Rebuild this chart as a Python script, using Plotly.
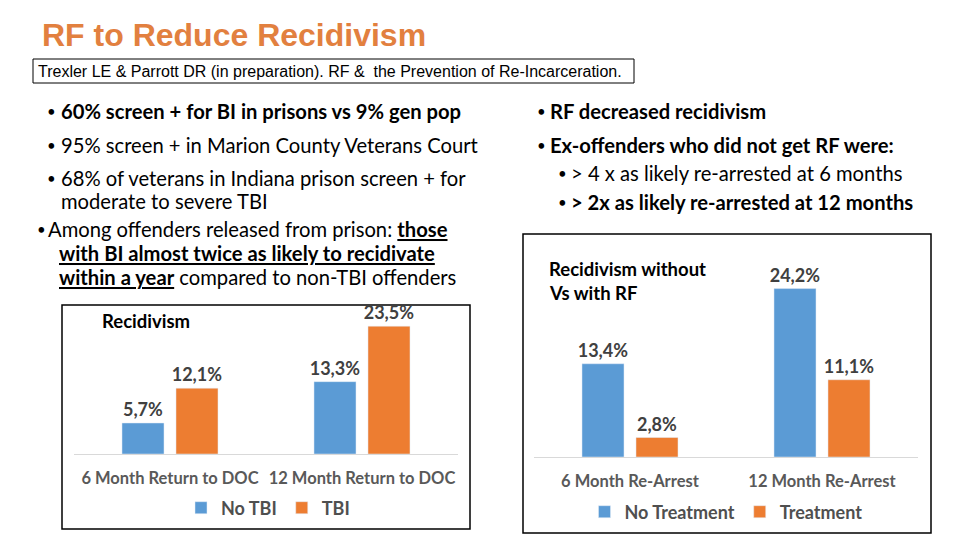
import plotly.graph_objects as go

# ---------------- data ----------------
left_categories = ["6 Month Return to DOC", "12 Month Return to DOC"]
left_no_tbi = [5.7, 13.3]
left_tbi = [12.1, 23.5]

right_categories = ["6 Month Re-Arrest", "12 Month Re-Arrest"]
right_no_treatment = [13.4, 24.2]
right_treatment = [2.8, 11.1]

W, H = 960, 540
BLUE = "#5B9BD5"
ORANGE = "#ED7D31"
BODY_FONT = "Lato"


def px(x):
    return x / W


def py(y):
    return 1 - y / H


def fmt(vals):
    return [f"{v:.1f}".replace(".", ",") + "%" for v in vals]


fig = go.Figure()

label_font = dict(family=BODY_FONT, size=18, color="#404040", weight="bold")

fig.add_trace(go.Bar(x=left_categories, y=left_no_tbi, name="No TBI", marker_color=BLUE,
                     text=fmt(left_no_tbi), textposition="outside", constraintext="none",
                     textfont=label_font, cliponaxis=False, xaxis="x", yaxis="y",
                     legend="legend", hoverinfo="skip"))
fig.add_trace(go.Bar(x=left_categories, y=left_tbi, name="TBI", marker_color=ORANGE,
                     text=fmt(left_tbi), textposition="outside", constraintext="none",
                     textfont=label_font, cliponaxis=False, xaxis="x", yaxis="y",
                     legend="legend", hoverinfo="skip"))
fig.add_trace(go.Bar(x=right_categories, y=right_no_treatment, name="No Treatment", marker_color=BLUE,
                     text=fmt(right_no_treatment), textposition="outside", constraintext="none",
                     textfont=label_font, cliponaxis=False, xaxis="x2", yaxis="y2",
                     legend="legend2", hoverinfo="skip"))
fig.add_trace(go.Bar(x=right_categories, y=right_treatment, name="Treatment", marker_color=ORANGE,
                     text=fmt(right_treatment), textposition="outside", constraintext="none",
                     textfont=label_font, cliponaxis=False, xaxis="x2", yaxis="y2",
                     legend="legend2", hoverinfo="skip"))

tick_font = dict(family=BODY_FONT, size=16.5, color="#595959", weight="bold")
axis_common = dict(type="category", range=[-0.5, 1.5], showgrid=False, zeroline=False,
                   showline=True, linecolor="#D9D9D9", linewidth=1, ticks="",
                   tickfont=tick_font, ticklabelstandoff=9, fixedrange=True)
yaxis_common = dict(range=[0, 25], visible=False, fixedrange=True)

legend_font = dict(family=BODY_FONT, size=18, color="#4F4F4F", weight="bold")

fig.update_layout(
    width=W, height=H,
    margin=dict(l=0, r=0, t=0, b=0),
    paper_bgcolor="white", plot_bgcolor="white",
    barmode="group", bargap=0.4375, bargroupgap=0.222,
    xaxis=dict(domain=[px(74), px(458)], anchor="y", **axis_common),
    yaxis=dict(domain=[py(454), py(318)], anchor="x", **yaxis_common),
    xaxis2=dict(domain=[px(534), px(918)], anchor="y2", **axis_common),
    yaxis2=dict(domain=[py(457), py(283)], anchor="x2", **yaxis_common),
    legend=dict(orientation="h", x=px(268), xanchor="center", y=py(508), yanchor="middle",
                font=legend_font, bgcolor="rgba(0,0,0,0)", itemwidth=30, tracegroupgap=0),
    legend2=dict(orientation="h", x=px(726), xanchor="center", y=py(512), yanchor="middle",
                 font=legend_font, bgcolor="rgba(0,0,0,0)", itemwidth=30, tracegroupgap=0),
    showlegend=True,
)

shapes = []
# chart frames
shapes.append(dict(type="rect", xref="paper", yref="paper", x0=px(62), x1=px(470), y0=py(529), y1=py(305),
                   line=dict(color="black", width=1.5), fillcolor="rgba(0,0,0,0)", layer="below"))
shapes.append(dict(type="rect", xref="paper", yref="paper", x0=px(523), x1=px(931), y0=py(533), y1=py(234),
                   line=dict(color="black", width=1.5), fillcolor="rgba(0,0,0,0)", layer="below"))
# citation box
shapes.append(dict(type="rect", xref="paper", yref="paper", x0=px(33), x1=px(634), y0=py(83), y1=py(59),
                   line=dict(color="black", width=1), fillcolor="rgba(0,0,0,0)"))
fig.update_layout(shapes=shapes)

ann = []


def text(x, y, s, size, color="black", family=BODY_FONT, xanchor="left", weight="normal"):
    ann.append(dict(x=px(x), y=py(y), xref="paper", yref="paper", text=s, showarrow=False,
                    xanchor=xanchor, yanchor="middle", align="left",
                    font=dict(family=family, size=size, color=color, weight=weight)))


# title and citation
text(40, 35, "RF to Reduce Recidivism", 32, color="#E2803F", family="Liberation Sans", weight="bold")
text(36, 71, "Trexler LE & Parrott DR (in preparation). RF &  the Prevention of Re-Incarceration.", 16,
     family="Liberation Sans")

BS = 20.2  # bullet text size
DOT = 15   # bullet glyph size
# left bullets
text(45, 111, "•", DOT)
text(59, 111, "<b>60% screen + for BI in prisons vs 9% gen pop</b>", BS)
text(45, 145, "•", DOT)
text(59, 145, "95% screen + in Marion County Veterans Court", BS)
text(45, 178, "•", DOT)
text(59, 178, "68% of veterans in Indiana prison screen + for", BS)
text(59, 201, "moderate to severe TBI", BS)
text(35, 229, "•", DOT)
text(46, 229, "Among offenders released from prison: <b><u>those</u></b>", BS)
text(57, 253, "<b><u>with BI almost twice as likely to recidivate</u></b>", BS)
text(57, 277, "<b><u>within a year</u></b> compared to non-TBI offenders", BS)

# right bullets
text(535, 111, "•", DOT)
text(548, 111, "<b>RF decreased recidivism</b>", BS)
text(535, 145, "•", DOT)
text(548, 145, "<b>Ex-offenders who did not get RF were:</b>", BS)
text(556, 173, "•", DOT)
text(569, 173, "> 4 x as likely re-arrested at 6 months", BS)
text(556, 202, "•", DOT)
text(569, 202, "<b>> 2x as likely re-arrested at 12 months</b>", BS)

# chart titles
text(100, 321, "<b>Recidivism</b>", 18.5)
text(547, 269, "<b>Recidivism without</b>", 18.5)
text(547, 293, "<b>Vs with RF</b>", 18.5)

fig.update_layout(annotations=ann)

fig.write_html("out.html", include_plotlyjs=True, config={"displayModeBar": False})
